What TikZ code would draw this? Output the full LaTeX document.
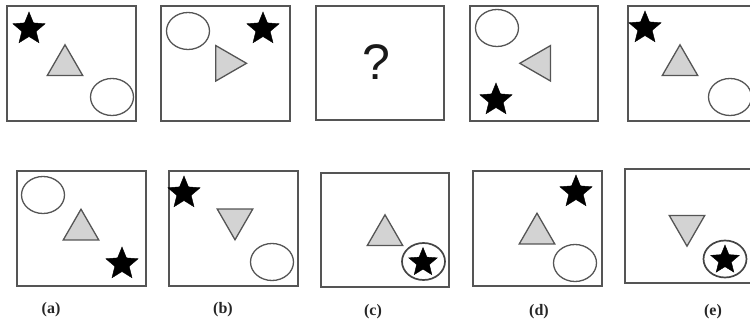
\documentclass[tikz,border=0pt]{standalone}
\usepackage{fontspec}
\setmainfont{Liberation Serif}
\setsansfont{Liberation Sans}
\usepackage{xcolor}
\usetikzlibrary{shapes.geometric}
\definecolor{edgegray}{HTML}{555555}
\definecolor{trifill}{HTML}{D3D3D3}
\tikzstyle{panel}=[draw=edgegray, line width=1.8pt]
\tikzstyle{starnode}=[star, star points=5, star point ratio=2.25, fill=black, draw=black, inner sep=0pt, minimum size=34pt]
\tikzstyle{small star}=[starnode, minimum size=30pt]
\tikzstyle{ring}=[ellipse, draw=edgegray, line width=1.3pt, minimum width=43pt, minimum height=37pt, inner sep=0pt]
\tikzstyle{thick ring}=[ring, line width=1.7pt, draw=edgegray!80!black]
\tikzstyle{tri}=[regular polygon, regular polygon sides=3, draw=edgegray, fill=trifill, line width=1.3pt, minimum size=41pt, inner sep=0pt]
\tikzstyle{tag}=[font=\bfseries\fontsize{16}{16}\selectfont, text=black!85]

\begin{document}
\begin{tikzpicture}[x=1pt, y=-1pt]
	\useasboundingbox (0,0) rectangle (750,331);
	\clip (0,0) rectangle (750,331);
	% question row
	\draw [style=panel] (7,6) rectangle (136,121);
	\draw [style=panel] (161,6) rectangle (290,121);
	\draw [style=panel] (316,6) rectangle (444,120);
	\draw [style=panel] (470,6) rectangle (598,121);
	\draw [style=panel] (628,6) rectangle (760,121);
	\node [style=starnode] (s1) at (29,29) {};
	\node [style=tri] (t1) at (65,65.3) {};
	\node [style=ring] (c1) at (112,97) {};
	\node [style=ring] (c2) at (188,31) {};
	\node [style=starnode] (s2) at (263,29) {};
	\node [style=tri, shape border rotate=270] (t2) at (226,63.3) {};
	\node [font=\sffamily\fontsize{50}{50}\selectfont, text=black!90] (q) at (376,62) {?};
	\node [style=ring] (c4) at (497,28) {};
	\node [style=tri, shape border rotate=90] (t4) at (540.3,63.3) {};
	\node [style=starnode] (s4) at (496,100) {};
	\node [style=starnode] (s5) at (645,28) {};
	\node [style=tri] (t5) at (680,65.3) {};
	\node [style=ring] (c5) at (730,97) {};
	% answer row
	\draw [style=panel] (17,171) rectangle (146,286);
	\draw [style=panel] (169,171) rectangle (298,286);
	\draw [style=panel] (321,173) rectangle (449,287);
	\draw [style=panel] (473,171) rectangle (602,286);
	\draw [style=panel] (625,169) rectangle (760,283);
	\node [style=ring] (ca) at (43,195) {};
	\node [style=tri] (ta) at (81,229.7) {};
	\node [style=starnode] (sa) at (122,264) {};
	\node [style=starnode] (sb) at (184,193) {};
	\node [style=tri, shape border rotate=180] (tb) at (235,219.3) {};
	\node [style=ring] (cb) at (272,262) {};
	\node [style=tri] (tc) at (385,235.3) {};
	\node [style=thick ring] (cc) at (423.5,261.5) {};
	\node [style=small star] (sc) at (423,262.5) {};
	\node [style=starnode] (sd) at (576,192) {};
	\node [style=tri] (td) at (537,233.7) {};
	\node [style=ring] (cd) at (575,263) {};
	\node [style=tri, shape border rotate=180] (te) at (687,225.7) {};
	\node [style=thick ring] (ce) at (725,259) {};
	\node [style=small star] (se) at (725,260) {};
	% option tags
	\node [style=tag] (la) at (51,310) {(a)};
	\node [style=tag] (lb) at (223,310) {(b)};
	\node [style=tag] (lc) at (373,312) {(c)};
	\node [style=tag] (ld) at (539,312) {(d)};
	\node [style=tag] (le) at (713,312) {(e)};
\end{tikzpicture}
\end{document}
